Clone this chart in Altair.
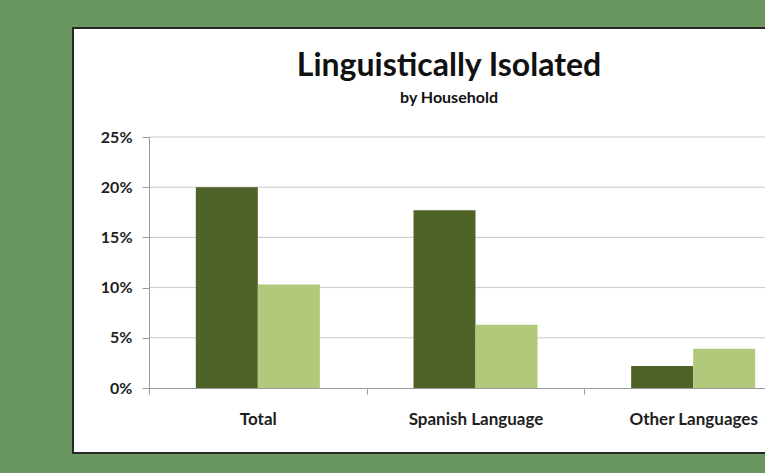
import altair as alt
import pandas as pd

categories = ["Total", "Spanish Language", "Other Languages"]
series_names = ["Series 1", "Series 2"]
series1_values = [0.200, 0.177, 0.022]
series2_values = [0.103, 0.063, 0.039]
y_ticks = [0.0, 0.05, 0.10, 0.15, 0.20, 0.25]
grid_values = [0.05, 0.10, 0.15, 0.20, 0.25]
bar_colors = ["#4F6228", "#B2C97C"]

rows = []
for c, v1, v2 in zip(categories, series1_values, series2_values):
    rows.append({"category": c, "series": series_names[0], "value": v1})
    rows.append({"category": c, "series": series_names[1], "value": v2})
df = pd.DataFrame(rows)
grid_df = pd.DataFrame({"value": grid_values})

W = 616
H = 251
FONT = "Lato"

x_scale = alt.Scale(domain=categories, range=[0, 653], paddingInner=0, paddingOuter=0)
y_scale = alt.Scale(domain=[0, 0.25])

y_axis = alt.Axis(title=None, values=y_ticks, format=".0%", tickSize=7,
                  tickColor="#9A9A9A", domainColor="#9A9A9A", labelFont=FONT,
                  labelFontWeight="bold", labelFontSize=16, labelColor="#1E1E1E",
                  labelPadding=10, zindex=1, grid=False)

panel = alt.Chart(alt.Data(values=[{"p": 1}])).mark_rect(
    fill="white", stroke="#262626", strokeWidth=2
).encode(
    x=alt.value(-76), x2=alt.value(720), y=alt.value(-109), y2=alt.value(316)
)

grid = alt.Chart(grid_df).mark_rule(color="#C9C9C9", strokeWidth=1).encode(
    y=alt.Y("value:Q", scale=y_scale, axis=y_axis)
)

bars = alt.Chart(df).mark_bar().encode(
    x=alt.X("category:N", scale=x_scale, sort=categories,
            axis=alt.Axis(title=None, labelAngle=0, tickBand="extent", tickSize=6,
                          tickColor="#9A9A9A", domainColor="#9A9A9A", labelFont=FONT,
                          labelFontWeight="bold", labelFontSize=17, labelColor="#1E1E1E",
                          labelPadding=17, zindex=1, grid=False)),
    xOffset=alt.XOffset("series:N", sort=series_names,
                        scale=alt.Scale(paddingInner=0, paddingOuter=0.755)),
    y=alt.Y("value:Q", scale=y_scale, axis=y_axis),
    color=alt.Color("series:N", scale=alt.Scale(domain=series_names, range=bar_colors),
                    legend=None),
)

chart = alt.layer(panel, grid, bars).properties(
    width=W, height=H,
    title=alt.TitleParams(
        text="Linguistically Isolated", subtitle="by Household",
        font=FONT, fontSize=32, fontWeight="bold", color="#111111",
        subtitleFont=FONT, subtitleFontSize=16, subtitleFontWeight="bold",
        subtitleColor="#111111", subtitlePadding=7,
        anchor="middle", dx=-8, offset=-80, zindex=1,
    ),
    autosize=alt.AutoSizeParams(type="none"),
    padding={"left": 149, "top": 137, "right": 0, "bottom": 85},
    background="#6A9660",
).configure_view(stroke=None)

chart.save("out.html", embed_options={"renderer": "svg", "actions": False})
